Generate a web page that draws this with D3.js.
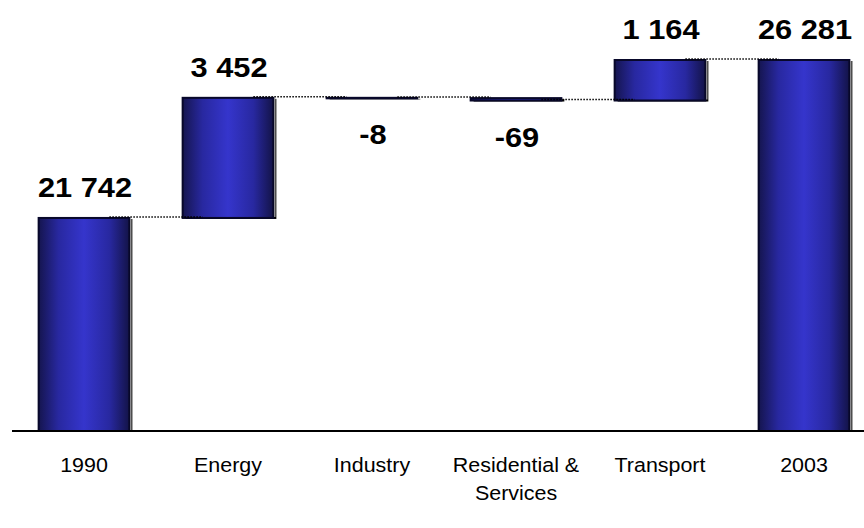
<!DOCTYPE html>
<html>
<head>
<meta charset="utf-8">
<script src="https://cdn.jsdelivr.net/npm/d3@7"></script>
<style>
  body { margin: 0; background: #fff; }
  svg { display: block; font-family: "Liberation Sans", Arial, sans-serif; }
</style>
</head>
<body>
<div id="chart"></div>
<script>
var categories = ["1990", "Energy", "Industry", "Residential & Services", "Transport", "2003"];
var values = [21742, 3452, -8, -69, 1164, 26281];
var isTotal = [true, false, false, false, false, true];
var labelLines = [["1990"], ["Energy"], ["Industry"], ["Residential &", "Services"], ["Transport"], ["2003"]];

var w = 864, h = 528;
var yMin = 15620;
var baseY = 431;
var stretch = 1.1; // text in the original is a little wider than normal

var svg = d3.select("#chart").append("svg")
    .attr("width", w)
    .attr("height", h);

// running totals for the waterfall
var running = 0;
var bars = categories.map(function(c, i) {
    var start, end;
    if (isTotal[i]) { start = yMin; end = values[i]; running = values[i]; }
    else { start = running; end = running + values[i]; running = end; }
    return { cat: c, value: values[i], start: start, end: end, total: isTotal[i], i: i };
});

var x = d3.scaleBand()
    .domain(categories)
    .range([12, 876])
    .paddingInner(0.37)
    .paddingOuter(0.185);

var y = d3.scaleLinear()
    .domain([yMin, 26281])
    .range([baseY, 60]);

var defs = svg.append("defs");
var grad = defs.append("linearGradient")
    .attr("id", "barGrad")
    .attr("x1", "0%").attr("x2", "100%")
    .attr("y1", "0%").attr("y2", "0%");
grad.append("stop").attr("offset", "0%").attr("stop-color", "#15154f");
grad.append("stop").attr("offset", "22%").attr("stop-color", "#2828a0");
grad.append("stop").attr("offset", "50%").attr("stop-color", "#3535cc");
grad.append("stop").attr("offset", "78%").attr("stop-color", "#2828a0");
grad.append("stop").attr("offset", "100%").attr("stop-color", "#131348");

function barTop(d) { return Math.min(y(d.start), y(d.end)); }
function barBottom(d) { return Math.max(y(d.start), y(d.end)); }

// shadows
svg.append("g").selectAll("rect")
    .data(bars)
  .enter().append("rect")
    .attr("x", function(d) { return x(d.cat) + 3; })
    .attr("y", function(d) { return barTop(d) + 1; })
    .attr("width", x.bandwidth())
    .attr("height", function(d) { return Math.max(0.5, barBottom(d) - barTop(d)); })
    .attr("fill", "#000");

svg.append("g").selectAll("rect")
    .data(bars)
  .enter().append("rect")
    .attr("x", function(d) { return x(d.cat); })
    .attr("y", barTop)
    .attr("width", x.bandwidth())
    .attr("height", function(d) { return Math.max(0.5, barBottom(d) - barTop(d)); })
    .attr("fill", "url(#barGrad)")
    .attr("stroke", "#08082a")
    .attr("stroke-width", 2);

// light edge on the right side
svg.append("g").selectAll("line")
    .data(bars)
  .enter().append("line")
    .attr("x1", function(d) { return x(d.cat) + x.bandwidth() + 1.5; })
    .attr("x2", function(d) { return x(d.cat) + x.bandwidth() + 1.5; })
    .attr("y1", function(d) { return barTop(d) + 1; })
    .attr("y2", function(d) { return barBottom(d) - 1; })
    .attr("stroke", "#d8d8d8")
    .attr("stroke-width", 1);

// dotted connectors
var links = bars.slice(0, -1).map(function(d, i) {
    return { from: d, to: bars[i + 1], level: d.end };
});
svg.append("g").selectAll("line")
    .data(links)
  .enter().append("line")
    .attr("x1", function(d) { return x(d.from.cat) + x.bandwidth() - 20; })
    .attr("x2", function(d) { return x(d.to.cat) + 20; })
    .attr("y1", function(d) { return y(d.level) - 1; })
    .attr("y2", function(d) { return y(d.level) - 1; })
    .attr("stroke", "#000")
    .attr("stroke-width", 1.5)
    .attr("stroke-dasharray", "1.5,1.5");

// x axis line
svg.append("line")
    .attr("x1", 12).attr("x2", w)
    .attr("y1", baseY).attr("y2", baseY)
    .attr("stroke", "#000")
    .attr("stroke-width", 2);

var fmt = function(v) { return d3.format(",")(v).replace(/,/g, " ").replace("\u2212", "-"); };

svg.append("g").selectAll("text")
    .data(bars)
  .enter().append("text")
    .attr("transform", function(d) {
        var ty = d.value < 0 ? barBottom(d) + 46 : barTop(d) - 21;
        return "translate(" + (x(d.cat) + x.bandwidth() / 2 + 1) + "," + ty + ") scale(" + stretch + ",1)";
    })
    .attr("text-anchor", "middle")
    .attr("font-size", 28)
    .attr("font-weight", "bold")
    .attr("fill", "#000")
    .text(function(d) { return fmt(d.value); });

var catLabels = svg.append("g").selectAll("text")
    .data(bars)
  .enter().append("text")
    .attr("transform", function(d) {
        return "translate(" + (x(d.cat) + x.bandwidth() / 2) + ",472) scale(" + stretch + ",1)";
    })
    .attr("text-anchor", "middle")
    .attr("font-size", 19.5)
    .attr("fill", "#000");

catLabels.selectAll("tspan")
    .data(function(d) { return labelLines[d.i]; })
  .enter().append("tspan")
    .attr("x", 0)
    .attr("dy", function(d, i) { return i === 0 ? 0 : 28; })
    .text(function(d) { return d; });
</script>
</body>
</html>
